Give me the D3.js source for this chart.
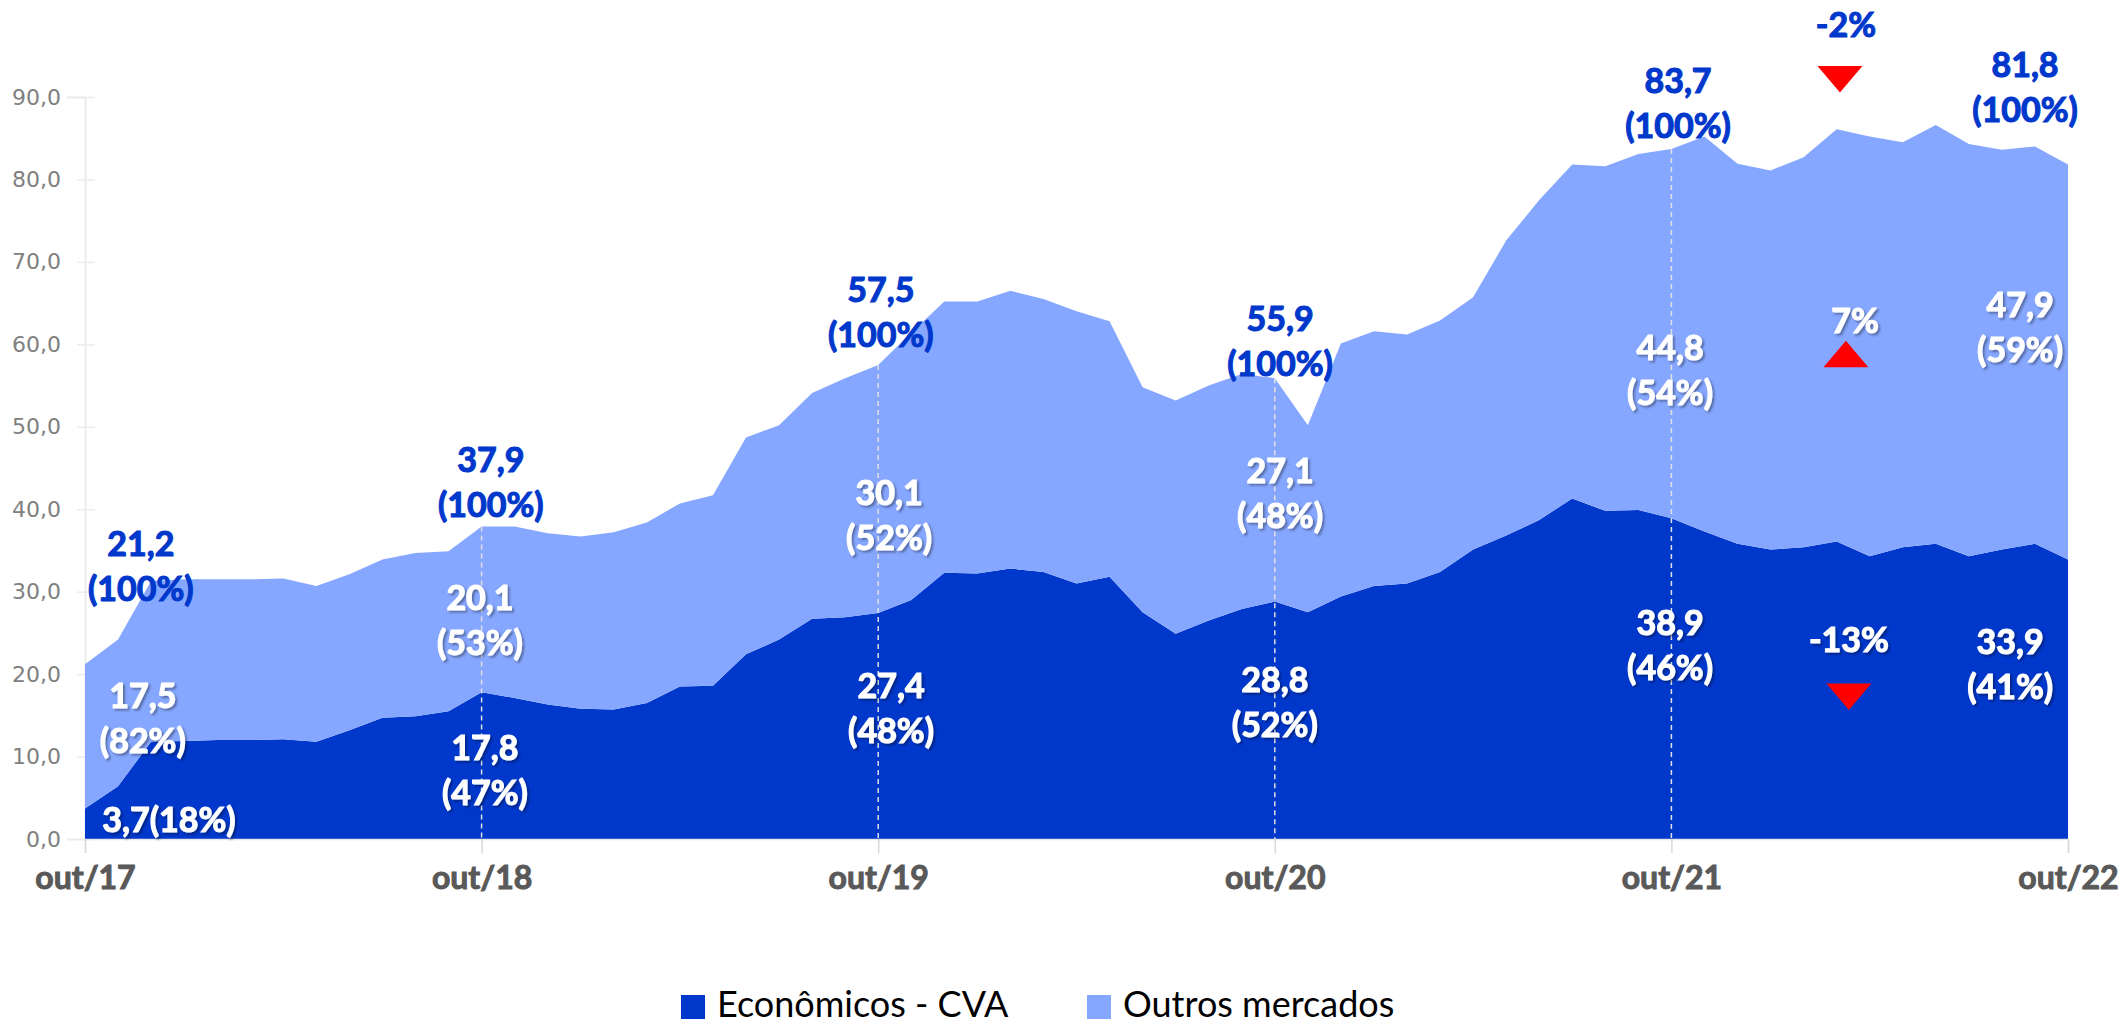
<!DOCTYPE html>
<html>
<head>
<meta charset="utf-8">
<script src="https://cdn.jsdelivr.net/npm/d3@7"></script>
<style>
  html, body { margin: 0; padding: 0; background: #fff; }
  svg { display: block; }
</style>
</head>
<body>
<svg id="chart" width="2126" height="1025"></svg>
<script>
// ---------------- DATA ----------------
const months = [
  "out/17","nov/17","dez/17","jan/18","fev/18","mar/18","abr/18","mai/18","jun/18","jul/18","ago/18","set/18",
  "out/18","nov/18","dez/18","jan/19","fev/19","mar/19","abr/19","mai/19","jun/19","jul/19","ago/19","set/19",
  "out/19","nov/19","dez/19","jan/20","fev/20","mar/20","abr/20","mai/20","jun/20","jul/20","ago/20","set/20",
  "out/20","nov/20","dez/20","jan/21","fev/21","mar/21","abr/21","mai/21","jun/21","jul/21","ago/21","set/21",
  "out/21","nov/21","dez/21","jan/22","fev/22","mar/22","abr/22","mai/22","jun/22","jul/22","ago/22","set/22",
  "out/22"
];
// Econômicos - CVA
const cva = [
  3.7, 6.4, 11.8, 11.9, 12.0, 12.0, 12.1, 11.8, 13.2, 14.7, 14.9, 15.5,
  17.8, 17.1, 16.3, 15.8, 15.7, 16.5, 18.5, 18.6, 22.4, 24.2, 26.7, 26.9,
  27.4, 29.0, 32.3, 32.2, 32.8, 32.4, 31.0, 31.8, 27.5, 24.9, 26.5, 27.9,
  28.8, 27.5, 29.4, 30.7, 31.0, 32.4, 35.1, 36.8, 38.7, 41.3, 39.8, 39.9,
  38.9, 37.3, 35.8, 35.1, 35.4, 36.1, 34.3, 35.4, 35.8, 34.3, 35.1, 35.8,
  33.9
];
// Outros mercados
const outros = [
  17.5, 17.8, 19.5, 19.6, 19.5, 19.5, 19.5, 18.9, 18.9, 19.2, 19.8, 19.4,
  20.1, 20.8, 20.8, 20.9, 21.5, 21.9, 22.2, 23.1, 26.3, 26.0, 27.4, 29.0,
  30.1, 32.4, 32.9, 33.0, 33.7, 33.1, 33.0, 31.0, 27.3, 28.3, 28.5, 28.5,
  27.1, 22.7, 30.7, 30.9, 30.2, 30.5, 30.6, 35.8, 38.8, 40.5, 41.8, 43.2,
  44.8, 47.9, 46.1, 46.0, 47.3, 50.0, 50.9, 49.1, 50.8, 50.0, 48.5, 48.2,
  47.9
];
const seriesNames = ["Econômicos - CVA", "Outros mercados"];
const xTickLabels = ["out/17","out/18","out/19","out/20","out/21","out/22"];
const yTicks = [0,10,20,30,40,50,60,70,80,90];
const markerMonths = ["out/18","out/19","out/20","out/21"];

// Annotations (anchor in data space: month index, value)
const valueLabels = [
  {i:1.69, v:34.3, lines:["21,2","(100%)"], kind:"total"},
  {i:1.75, v:15.9, lines:["17,5","(82%)"], kind:"white"},
  {i:2.54, v:0.85, lines:["3,7(18%)"], kind:"white"},
  {i:12.28, v:44.5, lines:["37,9","(100%)"], kind:"total"},
  {i:11.95, v:27.8, lines:["20,1","(53%)"], kind:"white"},
  {i:12.1, v:9.6, lines:["17,8","(47%)"], kind:"white"},
  {i:24.08, v:65.1, lines:["57,5","(100%)"], kind:"total"},
  {i:24.33, v:40.5, lines:["30,1","(52%)"], kind:"white"},
  {i:24.39, v:17.1, lines:["27,4","(48%)"], kind:"white"},
  {i:36.16, v:61.6, lines:["55,9","(100%)"], kind:"total"},
  {i:36.16, v:43.2, lines:["27,1","(48%)"], kind:"white"},
  {i:36.0, v:17.8, lines:["28,8","(52%)"], kind:"white"},
  {i:48.2, v:90.5, lines:["83,7","(100%)"], kind:"total"},
  {i:47.96, v:58.1, lines:["44,8","(54%)"], kind:"white"},
  {i:47.96, v:24.7, lines:["38,9","(46%)"], kind:"white"},
  {i:58.7, v:92.4, lines:["81,8","(100%)"], kind:"total"},
  {i:58.55, v:63.3, lines:["47,9","(59%)"], kind:"white"},
  {i:58.25, v:22.4, lines:["33,9","(41%)"], kind:"white"},
  {i:53.28, v:97.3, lines:["-2%"], kind:"total"},
  {i:53.56, v:61.4, lines:["7%"], kind:"white"},
  {i:53.37, v:22.7, lines:["-13%"], kind:"white"}
];
const triangles = [
  {i:53.1, v:92.7, dir:"down"},
  {i:53.28, v:58.3, dir:"up"},
  {i:53.37, v:17.8, dir:"down"}
];
const diamonds = [{i:63.2, v:87.9}];

// ---------------- CHART ----------------
const colors = {cva:"#0038CC", outros:"#86A7FF", total:"#0038CC"};
const svg = d3.select("#chart");
const x = d3.scaleLinear().domain([0, months.length - 1]).range([85, 2068]);
const y = d3.scaleLinear().domain([0, 90]).range([839, 97]);

const defs = svg.append("defs");
const f = defs.append("filter").attr("id","shadow").attr("x","-20%").attr("y","-20%").attr("width","140%").attr("height","140%");
f.append("feDropShadow").attr("dx",2).attr("dy",2).attr("stdDeviation",1.2)
  .attr("flood-color","#000").attr("flood-opacity",0.35);

const table = months.map((m, k) => ({month:m, idx:k, cva:cva[k], outros:outros[k]}));
const stack = d3.stack().keys(["cva","outros"]);
const layers = stack(table);

const area = d3.area()
  .x(d => x(d.data.idx))
  .y0(d => y(d[0]))
  .y1(d => y(d[1]));

// y axis line and ticks
const yAxis = d3.axisLeft(y).tickValues(yTicks).tickSize(18)
  .tickFormat(d => d3.format(".1f")(d).replace(".", ","));
const gy = svg.append("g").attr("transform", `translate(${x(0)},0)`).call(yAxis);
gy.select(".domain").attr("stroke","#ececec").attr("stroke-width",2);
gy.selectAll(".tick line").attr("stroke","#ececec").attr("stroke-width",1.5).attr("x2",-8).attr("x1",10);
gy.selectAll(".tick text").attr("x",-24).attr("fill","#808080")
  .style("font-family","'DejaVu Sans', sans-serif").style("font-size","22px");

// areas
svg.append("g").selectAll("path").data(layers).join("path")
  .attr("d", area)
  .attr("fill", d => d.key === "cva" ? colors.cva : colors.outros);

// x axis
const xAxis = d3.axisBottom(x)
  .tickValues(xTickLabels.map(l => months.indexOf(l)))
  .tickSize(14)
  .tickFormat(d => months[d]);
const gx = svg.append("g").attr("transform", `translate(0,${y(0)})`).call(xAxis);
gx.select(".domain").attr("stroke","#e6e6e6").attr("stroke-width",1.5);
gx.selectAll(".tick line").attr("stroke","#d9d9d9").attr("stroke-width",1.5);
gx.selectAll(".tick text").attr("y",50).attr("dy",0).attr("fill","#595959")
  .attr("stroke","#595959").attr("stroke-width",1).attr("paint-order","stroke")
  .style("font-family","Lato, sans-serif").style("font-weight","700").style("font-size","32px");

// dashed marker lines
const totals = cva.map((c, k) => c + outros[k]);
svg.append("g").selectAll("line").data(markerMonths.map(m => months.indexOf(m))).join("line")
  .attr("x1", d => x(d)).attr("x2", d => x(d))
  .attr("y1", d => y(totals[d])).attr("y2", y(0))
  .attr("stroke","#e0e0e0").attr("stroke-width",1.5).attr("stroke-dasharray","5,4");

// value labels
const lg = svg.append("g").style("font-family","Lato, sans-serif").style("font-weight","700").style("font-size","34px");
valueLabels.forEach(L => {
  const c = L.kind === "total" ? colors.total : "#ffffff";
  const t = lg.append("text")
    .attr("text-anchor","middle")
    .attr("x", x(L.i)).attr("y", y(L.v))
    .attr("fill", c).attr("stroke", c).attr("stroke-width", 1.1);
  if (L.kind === "white") t.attr("filter","url(#shadow)");
  L.lines.forEach((s, k) => {
    t.append("tspan").attr("x", x(L.i)).attr("dy", k === 0 ? 0 : 45).text(s);
  });
});

// triangles
const tri = d3.symbol().type(d3.symbolTriangle).size(560);
svg.append("g").selectAll("path").data(triangles).join("path")
  .attr("d", tri)
  .attr("transform", d => `translate(${x(d.i)},${y(d.v)}) scale(1.25,0.85) rotate(${d.dir === "down" ? 180 : 0})`)
  .attr("fill","#FF0000");

// diamond
svg.append("g").selectAll("path").data(diamonds).join("path")
  .attr("d", d3.symbol().type(d3.symbolDiamond).size(900))
  .attr("transform", d => `translate(${x(d.i)},${y(d.v)}) scale(1.3,1)`)
  .attr("fill","#A86CB0");

// legend
const legend = svg.append("g").style("font-family","Lato, sans-serif").style("font-size","36px");
const legendX = [681, 1087];
seriesNames.forEach((n, k) => {
  const g = legend.append("g").attr("transform", `translate(${legendX[k]},995)`);
  g.append("rect").attr("width",24).attr("height",24).attr("fill", k === 0 ? colors.cva : colors.outros);
  g.append("text").attr("x",36).attr("y",22).attr("fill","#000").text(n);
});
</script>
</body>
</html>
